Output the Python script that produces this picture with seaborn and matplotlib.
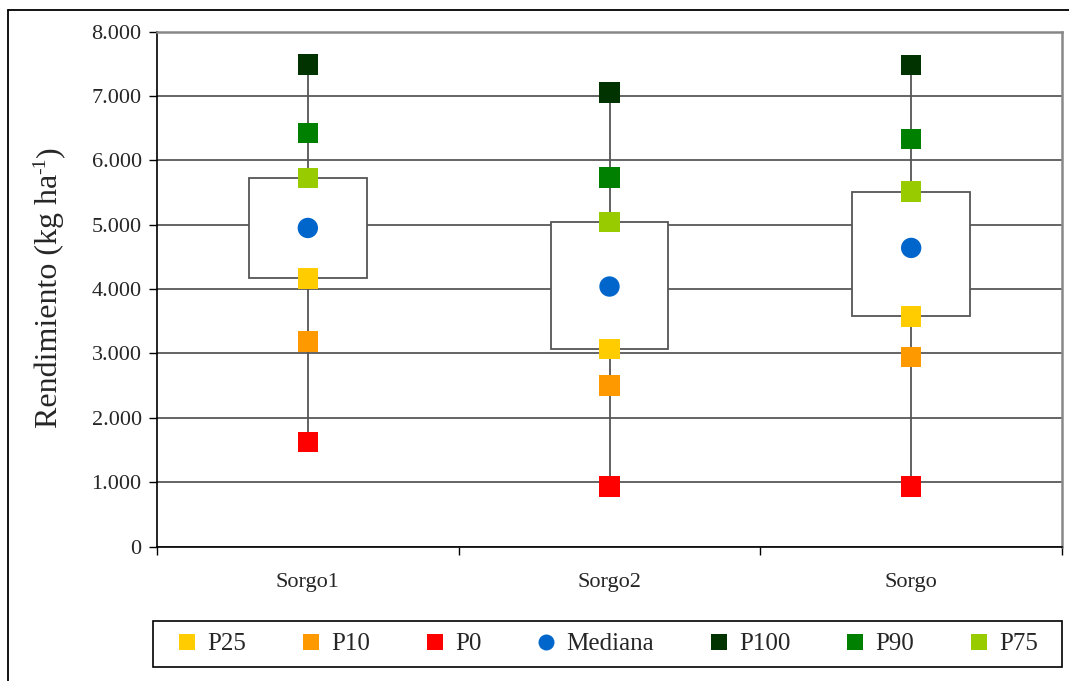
import numpy as np
import pandas as pd
import matplotlib
matplotlib.use("Agg")
import matplotlib.pyplot as plt
from matplotlib.lines import Line2D
from matplotlib.patches import Rectangle
from matplotlib.ticker import FuncFormatter, FixedLocator
import seaborn as sns

# Yield percentiles per sorghum group (kg/ha)
groups = ["Sorgo1", "Sorgo2", "Sorgo"]
p0 = [1620, 935, 935]
p10 = [3185, 2500, 2940]
p25 = [4165, 3070, 3575]
mediana = [4950, 4040, 4640]
p75 = [5730, 5040, 5515]
p90 = [6430, 5735, 6335]
p100 = [7490, 7055, 7485]

stat_names = ["P25", "P10", "P0", "Mediana", "P100", "P90", "P75"]
stat_values = [p25, p10, p0, mediana, p100, p90, p75]
palette = {
    "P25": "#FFCC00",
    "P10": "#FF9900",
    "P0": "#FF0000",
    "Mediana": "#0066CC",
    "P100": "#003300",
    "P90": "#008000",
    "P75": "#99CC00",
}
markers = {s: ("o" if s == "Mediana" else "s") for s in stat_names}

rows = []
for name, vals in zip(stat_names, stat_values):
    for g, v in zip(groups, vals):
        rows.append({"grupo": g, "stat": name, "valor": v})
df = pd.DataFrame(rows)

sns.set_theme(style="white")
plt.rcParams["font.family"] = ["Liberation Serif", "DejaVu Serif"]

W, H = 1069, 681
fig = plt.figure(figsize=(W / 100, H / 100), dpi=100)
fig.patch.set_facecolor("white")

left, right, top, bottom = 157, 1062, 31.7, 546.5
ax = fig.add_axes([left / W, 1 - bottom / H, (right - left) / W, (bottom - top) / H])
ax.set_facecolor("white")

xpos = np.arange(len(groups))

# whiskers from P0 to P100
ax.vlines(xpos, p0, p100, colors="#555555", linewidth=1.3, zorder=2)
# box from P25 to P75
ax.bar(xpos, np.array(p75) - np.array(p25), bottom=p25, width=0.39,
       facecolor="white", edgecolor="#555555", linewidth=1.3, zorder=3)

sns.scatterplot(data=df, x="grupo", y="valor", hue="stat", style="stat",
                palette=palette, markers=markers, hue_order=stat_names,
                style_order=stat_names, s=215, linewidth=0, legend=False,
                ax=ax, zorder=4)

ax.set_xlim(-0.5, 2.5)
ax.set_ylim(0, 8000)
ax.set_yticks(np.arange(0, 8001, 1000))
ax.yaxis.set_major_formatter(FuncFormatter(lambda v, _: f"{v:,.0f}".replace(",", ".")))
ax.set_xticks(xpos)
ax.set_xticklabels(groups)
ax.xaxis.set_minor_locator(FixedLocator([-0.5, 0.5, 1.5, 2.5]))
ax.tick_params(axis="x", which="major", length=0, pad=19, labelsize=16)
ax.tick_params(axis="x", which="minor", length=6, width=1, color="black", direction="out", bottom=True)
ax.tick_params(axis="y", which="major", length=6, width=1, color="black", direction="out",
               left=True, pad=5, labelsize=16)
ax.set_xlabel("")
ax.set_ylabel("")

ax.set_axisbelow(True)
ax.yaxis.grid(True, color="#3a3a3a", linewidth=1.1)
ax.xaxis.grid(False)

for side in ["left", "bottom"]:
    ax.spines[side].set_color("black")
    ax.spines[side].set_linewidth(1.2)
for side in ["top", "right"]:
    ax.spines[side].set_color("#888888")
    ax.spines[side].set_linewidth(1.8)

# y-axis title built from pieces so the superscript uses a plain hyphen
fig.canvas.draw()
renderer = fig.canvas.get_renderer()
base_x, start_y = 57.0, 428.0
common = dict(rotation=90, rotation_mode="anchor", ha="left", va="baseline",
              transform=None)
t1 = fig.text(base_x, H - start_y, "Rendimiento (kg ha", fontsize=23, **common)
h1 = t1.get_window_extent(renderer).height
t2 = fig.text(base_x - 12, H - start_y + h1, "-1", fontsize=14, **common)
h2 = t2.get_window_extent(renderer).height
fig.text(base_x, H - start_y + h1 + h2, ")", fontsize=23, **common)

# legend (frame drawn separately to control its extent)
handles = [Line2D([0], [0], marker=markers[s], linestyle="none",
                  markerfacecolor=palette[s], markeredgewidth=0, markersize=11.5)
           for s in stat_names]
leg = fig.legend(handles, stat_names, loc="center",
                 bbox_to_anchor=(607.5 / W, 1 - 644 / H),
                 ncol=7, fontsize=18, frameon=False,
                 handlelength=0.8, handletextpad=0.4, borderaxespad=0,
                 columnspacing=2.2)
fig.add_artist(Rectangle((153 / W, 1 - 667 / H), (1062 - 153) / W, 46 / H,
                         transform=fig.transFigure, facecolor="none",
                         edgecolor="black", linewidth=1.2))

# outer frame lines
fig.add_artist(Line2D([8 / W, 8 / W], [0, 1 - 10 / H], transform=fig.transFigure,
                      color="black", linewidth=1.3))
fig.add_artist(Line2D([8 / W, 1], [1 - 10 / H, 1 - 10 / H], transform=fig.transFigure,
                      color="black", linewidth=1.3))

fig.savefig("out.png", dpi=100, facecolor="white")
